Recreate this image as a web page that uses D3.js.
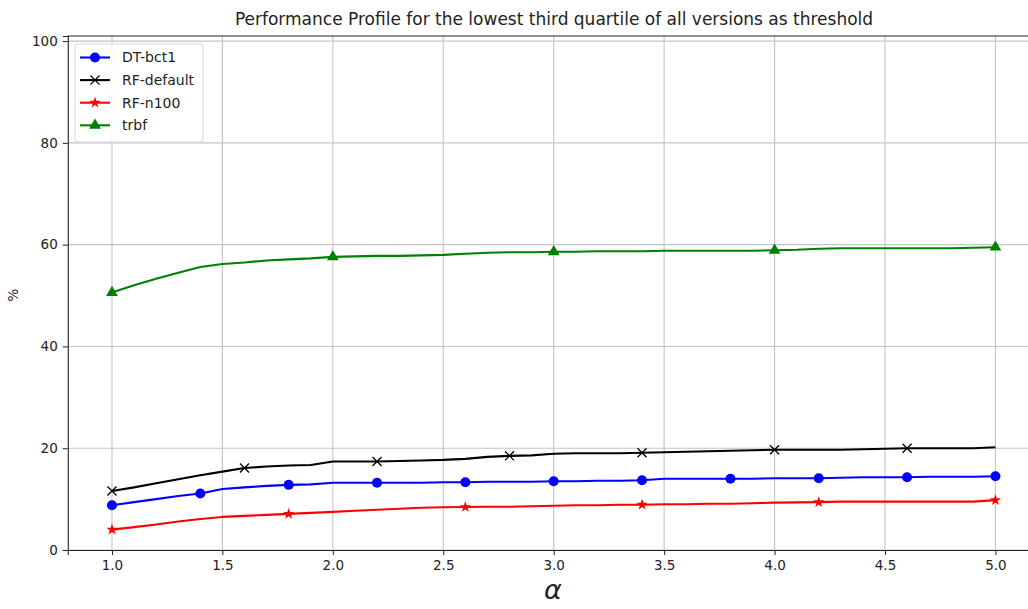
<!DOCTYPE html>
<html>
<head>
<meta charset="utf-8">
<script src="https://cdn.jsdelivr.net/npm/d3@7"></script>
<style>
  html, body { margin: 0; padding: 0; background: #fff; }
  svg { display: block; font-family: "DejaVu Sans", sans-serif; }
</style>
</head>
<body>
<svg id="chart" width="1028" height="609"></svg>
<script>
// Threshold multiplier alpha
const alpha = [1.0, 1.1, 1.2, 1.3, 1.4, 1.5, 1.6, 1.7, 1.8, 1.9,
               2.0, 2.1, 2.2, 2.3, 2.4, 2.5, 2.6, 2.7, 2.8, 2.9,
               3.0, 3.1, 3.2, 3.3, 3.4, 3.5, 3.6, 3.7, 3.8, 3.9,
               4.0, 4.1, 4.2, 4.3, 4.4, 4.5, 4.6, 4.7, 4.8, 4.9, 5.0];

// Share of instances (%) solved within alpha of the threshold
const dtBct1 = [8.8, 9.4, 10.0, 10.6, 11.1, 12.0, 12.3, 12.6, 12.8, 12.9,
                13.2, 13.2, 13.2, 13.2, 13.2, 13.3, 13.3, 13.4, 13.4, 13.4,
                13.5, 13.5, 13.6, 13.6, 13.7, 14.0, 14.0, 14.0, 14.0, 14.0,
                14.1, 14.1, 14.1, 14.2, 14.3, 14.3, 14.3, 14.4, 14.4, 14.4, 14.5];
const rfDefault = [11.6, 12.3, 13.1, 13.9, 14.7, 15.4, 16.1, 16.4, 16.6, 16.7,
                   17.4, 17.4, 17.4, 17.5, 17.6, 17.7, 17.9, 18.3, 18.5, 18.6,
                   18.9, 19.0, 19.0, 19.0, 19.1, 19.2, 19.3, 19.4, 19.5, 19.6,
                   19.7, 19.7, 19.7, 19.7, 19.8, 19.9, 20.0, 20.0, 20.0, 20.0, 20.2];
const rfN100 = [4.0, 4.5, 5.0, 5.6, 6.1, 6.5, 6.7, 6.9, 7.1, 7.3,
                7.5, 7.7, 7.9, 8.1, 8.3, 8.4, 8.45, 8.5, 8.5, 8.6,
                8.7, 8.8, 8.8, 8.9, 8.9, 9.0, 9.0, 9.1, 9.1, 9.2,
                9.3, 9.35, 9.4, 9.5, 9.5, 9.5, 9.5, 9.5, 9.5, 9.5, 9.8];
const trbf = [50.6, 52.0, 53.3, 54.5, 55.6, 56.2, 56.5, 56.9, 57.1, 57.3,
              57.6, 57.7, 57.8, 57.8, 57.9, 58.0, 58.2, 58.4, 58.5, 58.5,
              58.6, 58.6, 58.7, 58.7, 58.7, 58.8, 58.8, 58.8, 58.8, 58.8,
              58.9, 59.0, 59.2, 59.3, 59.3, 59.3, 59.3, 59.3, 59.3, 59.4, 59.5];

const seriesNames = ["DT-bct1", "RF-default", "RF-n100", "trbf"];
const xTicks = [1.0, 1.5, 2.0, 2.5, 3.0, 3.5, 4.0, 4.5, 5.0];
const yTicks = [0, 20, 40, 60, 80, 100];

const series = [
  { name: seriesNames[0], values: dtBct1,    color: "#0000ff", marker: "circle",   every: 4 },
  { name: seriesNames[1], values: rfDefault, color: "#000000", marker: "x",        every: 6 },
  { name: seriesNames[2], values: rfN100,    color: "#ff0000", marker: "star",     every: 8 },
  { name: seriesNames[3], values: trbf,      color: "#008000", marker: "triangle", every: 10 }
];

const svg = d3.select("#chart");
const x = d3.scaleLinear().domain([0.8, 5.2]).range([67.8, 1039.6]);
const y = d3.scaleLinear().domain([0, 101]).range([550, 36]);

// grid
const grid = svg.append("g");
grid.selectAll("line.gx").data(xTicks).join("line")
  .attr("x1", d => x(d)).attr("x2", d => x(d))
  .attr("y1", y(101)).attr("y2", y(0))
  .attr("stroke", "#c4c4c4").attr("stroke-width", 1.1);
grid.selectAll("line.gy").data(yTicks).join("line")
  .attr("x1", x(0.8)).attr("x2", x(5.2))
  .attr("y1", d => y(d)).attr("y2", d => y(d))
  .attr("stroke", "#c4c4c4").attr("stroke-width", 1.1);

// axes
const xAxis = d3.axisBottom(x).tickValues(xTicks).tickFormat(d3.format(".1f"))
  .tickSizeOuter(0).tickSize(5).tickPadding(5);
const yAxis = d3.axisLeft(y).tickValues(yTicks).tickFormat(d3.format("d"))
  .tickSizeOuter(0).tickSize(5).tickPadding(5);

const gx = svg.append("g").attr("transform", `translate(0,${y(0)})`).call(xAxis);
const gy = svg.append("g").attr("transform", `translate(${x(0.8)},0)`).call(yAxis);
[gx, gy].forEach(g => {
  g.selectAll("text").attr("font-size", 13.5).attr("fill", "#222")
    .attr("font-family", "DejaVu Sans, sans-serif");
  g.selectAll("line").attr("stroke", "#222").attr("stroke-width", 1);
  g.select(".domain").attr("stroke", "#222").attr("stroke-width", 1.1);
});
// top spine
svg.append("line").attr("x1", x(0.8)).attr("x2", x(5.2))
  .attr("y1", y(101)).attr("y2", y(101))
  .attr("stroke", "#222").attr("stroke-width", 1.1);

// marker shapes
const symbolFor = {
  circle: d3.symbol().type(d3.symbolCircle).size(Math.PI * 25),
  x: d3.symbol().type(d3.symbolX).size(55),
  star: d3.symbol().type(d3.symbolStar).size(40),
  triangle: d3.symbol().type(d3.symbolTriangle).size(60)
};

const line = d3.line().x(d => x(d[0])).y(d => y(d[1]));

series.forEach(s => {
  const pts = alpha.map((a, i) => [a, s.values[i]]);
  svg.append("path").datum(pts)
    .attr("d", line).attr("fill", "none")
    .attr("stroke", s.color).attr("stroke-width", 2.1)
    .attr("stroke-linejoin", "round");
  const marks = pts.filter((d, i) => i % s.every === 0);
  svg.selectAll(null).data(marks).join("path")
    .attr("transform", d => `translate(${x(d[0])},${y(d[1])})`)
    .attr("d", symbolFor[s.marker])
    .attr("fill", s.color)
    .attr("stroke", s.marker === "x" ? s.color : "none")
    .attr("stroke-width", s.marker === "x" ? 1.3 : 0);
});

// legend
const lg = svg.append("g").attr("transform", "translate(75,44)");
lg.append("rect").attr("x", 0).attr("y", 0).attr("width", 128).attr("height", 98)
  .attr("rx", 3).attr("fill", "#fff").attr("fill-opacity", 0.85)
  .attr("stroke", "#d8d8d8").attr("stroke-width", 1);
series.forEach((s, i) => {
  const yy = 13.5 + i * 22.6;
  lg.append("line").attr("x1", 5).attr("x2", 35).attr("y1", yy).attr("y2", yy)
    .attr("stroke", s.color).attr("stroke-width", 2.1);
  lg.append("path").attr("transform", `translate(20,${yy})`)
    .attr("d", symbolFor[s.marker]).attr("fill", s.color)
    .attr("stroke", s.marker === "x" ? s.color : "none")
    .attr("stroke-width", s.marker === "x" ? 1.3 : 0);
  lg.append("text").attr("x", 47).attr("y", yy).attr("dy", "0.35em")
    .attr("font-size", 14).attr("fill", "#222").text(s.name);
});

// title and axis labels
svg.append("text").attr("x", 554).attr("y", 25).attr("text-anchor", "middle")
  .attr("font-size", 17).attr("fill", "#222")
  .text("Performance Profile for the lowest third quartile of all versions as threshold");
svg.append("text").attr("transform", "translate(18,295) rotate(-90)")
  .attr("text-anchor", "middle").attr("font-size", 13.5).attr("fill", "#222").text("%");
svg.append("text").attr("x", 553).attr("y", 599).attr("text-anchor", "middle")
  .attr("font-size", 27).attr("font-style", "italic").attr("fill", "#222").text("α");
</script>
</body>
</html>
